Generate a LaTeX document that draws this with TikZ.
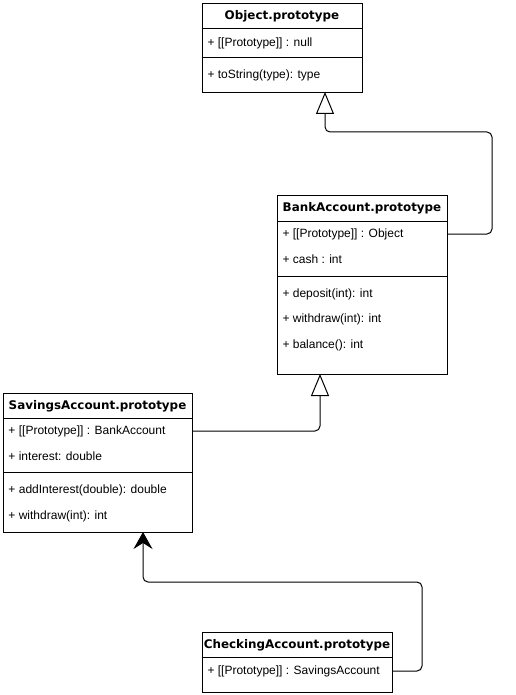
\documentclass[tikz,border=0pt]{standalone}
\usepackage{fontspec}
\setmainfont{Liberation Sans}
\newfontfamily\titlefont{DejaVu Sans}
\usetikzlibrary{arrows.meta}

\tikzset{
  classbox/.style={draw, anchor=north west, inner sep=0pt},
  classname/.style={inner sep=0pt, font=\titlefont\bfseries\fontsize{11.9}{14}\selectfont},
  member/.style={anchor=west, inner sep=0pt, font=\fontsize{12}{14}\selectfont},
  inherit/.style={rounded corners=5pt, -{Triangle[open, width=18pt, length=22pt]}},
  protolink/.style={rounded corners=5pt, -{Stealth[width=19pt, length=17pt, inset=6pt]}}
}

\begin{document}
\begin{tikzpicture}[x=1pt, y=-1pt, line width=1pt]
\useasboundingbox (0,0) rectangle (515,695);

\node[classbox, minimum width=160pt, minimum height=89pt] (obj) at (202,3) {};
\node[classname] (objname) at (282,16) {Object.prototype};
\draw (202,29) -- (362,29) (202,58) -- (362,58);
\foreach \t/\y [count=\i] in {{+ [[Prototype]] : null}/43, {+ toString(type): type}/75}
  \node[member] (obj\i) at (207,\y) {\t};

\node[classbox, minimum width=170pt, minimum height=179pt] (bank) at (277,195) {};
\node[classname] (bankname) at (362,208) {BankAccount.prototype};
\draw (277,221) -- (447,221) (277,276) -- (447,276);
\foreach \t/\y [count=\i] in {{+ [[Prototype]] : Object}/234, {+ cash : int}/259,
    {+ deposit(int): int}/294, {+ withdraw(int): int}/319, {+ balance(): int}/345}
  \node[member] (bank\i) at (282,\y) {\t};

\node[classbox, minimum width=189pt, minimum height=139pt] (sav) at (3,393) {};
\node[classname] (savname) at (97.5,406) {SavingsAccount.prototype};
\draw (3,418) -- (192,418) (3,472) -- (192,472);
\foreach \t/\y [count=\i] in {{+ [[Prototype]] : BankAccount}/431, {+ interest: double}/456,
    {+ addInterest(double): double}/490, {+ withdraw(int): int}/516}
  \node[member] (sav\i) at (8,\y) {\t};

\node[classbox, minimum width=190pt, minimum height=60pt] (chk) at (202,632) {};
\node[classname] (chkname) at (297,645) {CheckingAccount.prototype};
\draw (202,657) -- (392,657);
\node[member] (chk1) at (207,671) {+ [[Prototype]] : SavingsAccount};

\coordinate (bend1) at (492,132);
\coordinate (objin) at (325,92);
\coordinate (bankin) at (320,374);
\coordinate (bend2) at (422,582);
\coordinate (savin) at (143,532);

\draw[inherit] (bank.east |- bank1) -| (bend1) -| (objin);
\draw[inherit] (sav.east |- sav1) -| (bankin);
\draw[protolink] (chk.east |- chk1) -| (bend2) -| (savin);
\end{tikzpicture}
\end{document}
